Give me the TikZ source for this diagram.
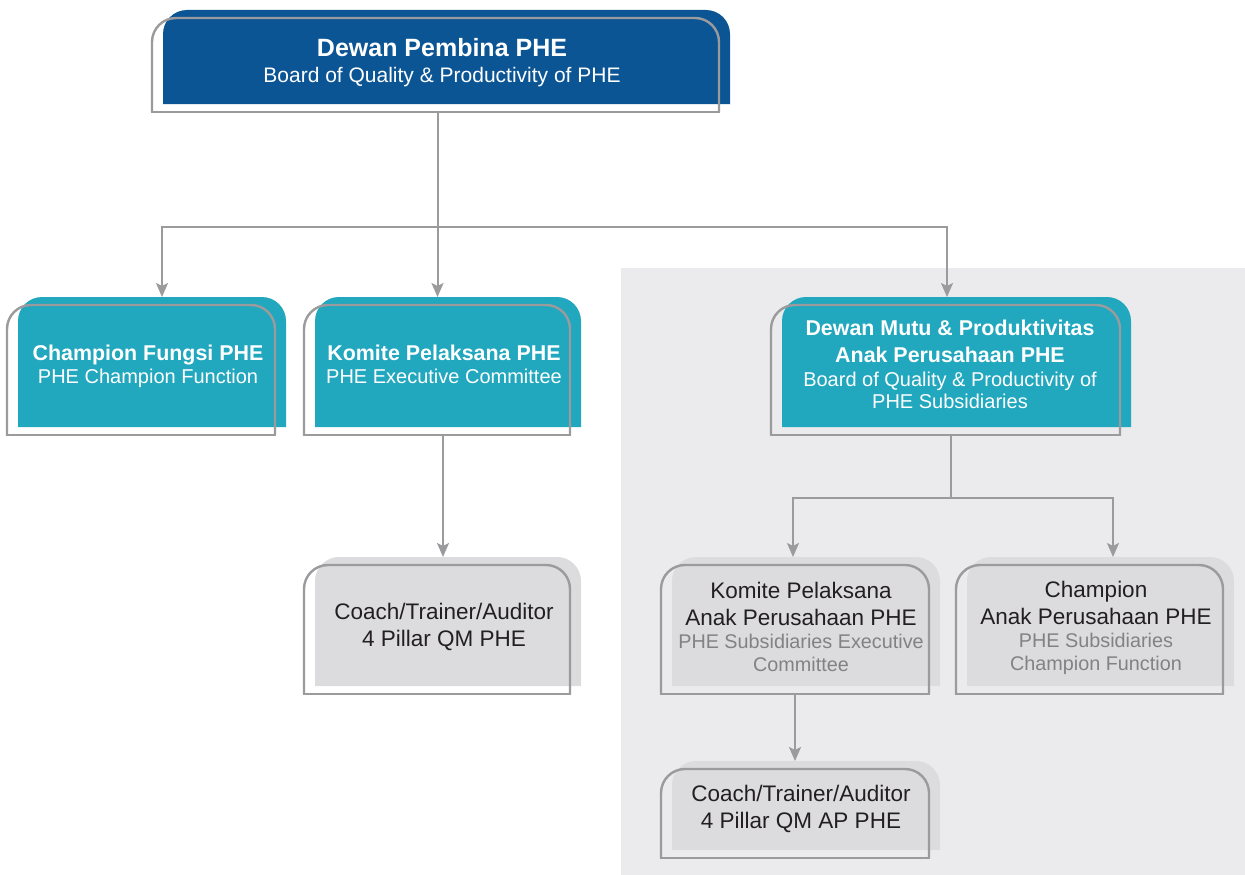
\documentclass[tikz,border=0pt]{standalone}
\usepackage{fontspec}
\setmainfont{Liberation Sans}
\usetikzlibrary{arrows.meta}

\definecolor{pheblue}{HTML}{0B5595}
\definecolor{pheteal}{HTML}{21A7BE}
\definecolor{boxgray}{HTML}{DCDCDE}
\definecolor{zonegray}{HTML}{EBEBED}
\definecolor{framegray}{HTML}{9B9B9D}
\definecolor{inkdark}{HTML}{231F20}
\definecolor{inksoft}{HTML}{828284}

\newcommand\bigttlf{\fontsize{25}{26}\bfseries\selectfont}
\newcommand\bigsubf{\fontsize{21}{26}\mdseries\selectfont}
\newcommand\ttlf{\fontsize{21.4}{23}\bfseries\selectfont}
\newcommand\subf{\fontsize{20}{23}\mdseries\selectfont}
\newcommand\darkf{\fontsize{22.5}{23}\mdseries\selectfont\color{inkdark}}
\newcommand\softf{\fontsize{19.8}{23}\mdseries\selectfont\color{inksoft}}

\tikzset{
  x=1pt, y=-1pt,
  anchorbox/.style={inner sep=0pt, outer sep=0pt, anchor=north west},
  frame/.style={draw=framegray, line width=2.4pt, rounded corners=24pt},
  framebot/.style={draw=framegray, line width=2.4pt, line cap=rect},
  conn/.style={draw=framegray, line width=2pt},
  arr/.style={conn, -{Stealth[length=14pt,width=12pt,inset=3pt]}},
  txt/.style={align=center, inner sep=0pt, text=white, font=\fontsize{20}{23}\selectfont},
  bigtxt/.style={txt, font=\fontsize{21}{25.5}\selectfont},
}

% filled card with rounded top corners plus an offset outline frame
% #1 name, #2 colour, #3 left, #4 top, #5 width, #6 height
\newcommand\orgbox[6]{%
  \node[anchorbox, minimum width=#5pt, minimum height=#6pt] (#1) at (#3,#4) {};
  \fill[#2, rounded corners=24pt] (#1.south west) -- (#1.north west) -- (#1.north east) -- (#1.south east);
  \node[anchorbox, minimum width=#5pt, minimum height=#6pt] (#1f) at (#3-11,#4+8) {};
  \draw[frame] (#1f.south west) -- (#1f.north west) -- (#1f.north east) -- (#1f.south east);
  \draw[framebot] (#1f.south west) -- (#1f.south east);
}

\begin{document}
\begin{tikzpicture}
\useasboundingbox (0,0) rectangle (1245,875);

% subsidiaries zone
\fill[zonegray] (621,268) rectangle (1245,875);

% cards
\orgbox{top}{pheblue}{163}{10}{567}{94}
\orgbox{champ}{pheteal}{18}{297}{268}{130}
\orgbox{kom}{pheteal}{315}{297}{266}{130}
\orgbox{mutu}{pheteal}{782}{297}{349}{130}
\orgbox{coach}{boxgray}{315}{557}{266}{129}
\orgbox{komap}{boxgray}{672}{557}{268}{129}
\orgbox{champap}{boxgray}{967}{557}{267}{129}
\orgbox{coachap}{boxgray}{672}{761}{268}{89}

% labels
\node[bigtxt] (toptx) at (442,62.5) {\bigttlf Dewan Pembina PHE\\\bigsubf Board of Quality \& Productivity of PHE};
\node[txt] (champtx) at (148,366) {\ttlf Champion Fungsi PHE\\\subf PHE Champion Function};
\node[txt] (komtx) at (444,364) {\ttlf Komite Pelaksana PHE\\\subf PHE Executive Committee};
\node[txt] (mututx) at (950,364) {\ttlf Dewan Mutu \& Produktivitas\\[4pt]\ttlf Anak Perusahaan PHE\\[1pt]\subf Board of Quality \& Productivity of\\[-1pt]\subf PHE Subsidiaries};
\node[txt] (coachtx) at (444,627) {\darkf Coach/Trainer/Auditor\\[4pt]\darkf 4 Pillar QM PHE};
\node[txt] (komaptx) at (801,626.5) {\darkf Komite Pelaksana\\[4pt]\darkf Anak Perusahaan PHE\\\softf PHE Subsidiaries Executive\\\softf Committee};
\node[txt] (champaptx) at (1096,628) {\darkf Champion\\[4pt]\darkf Anak Perusahaan PHE\\\softf PHE Subsidiaries\\\softf Champion Function};
\node[txt] (coachaptx) at (801,809) {\darkf Coach/Trainer/Auditor\\[4pt]\darkf 4 Pillar QM AP PHE};

% connectors
\draw[conn] ([xshift=2pt]topf.south) -- ++(0,115) coordinate (j1);
\draw[arr] (j1) -| ([xshift=10pt]champ.north);
\draw[arr] (j1) -- (j1 |- kom.north);
\draw[arr] (j1) -| ([xshift=-9.5pt]mutu.north);

\draw[arr] ([xshift=6pt]komf.south) coordinate (k1) -- (k1 |- coach.north);

\draw[conn] ([xshift=5pt]mutuf.south) -- ++(0,63) coordinate (j2);
\draw[arr] (j2) -| ([xshift=-13pt]komap.north);
\draw[arr] (j2) -| ([xshift=12.5pt]champap.north);

\draw[arr] (komapf.south) coordinate (k2) -- (k2 |- coachap.north);
\end{tikzpicture}
\end{document}
